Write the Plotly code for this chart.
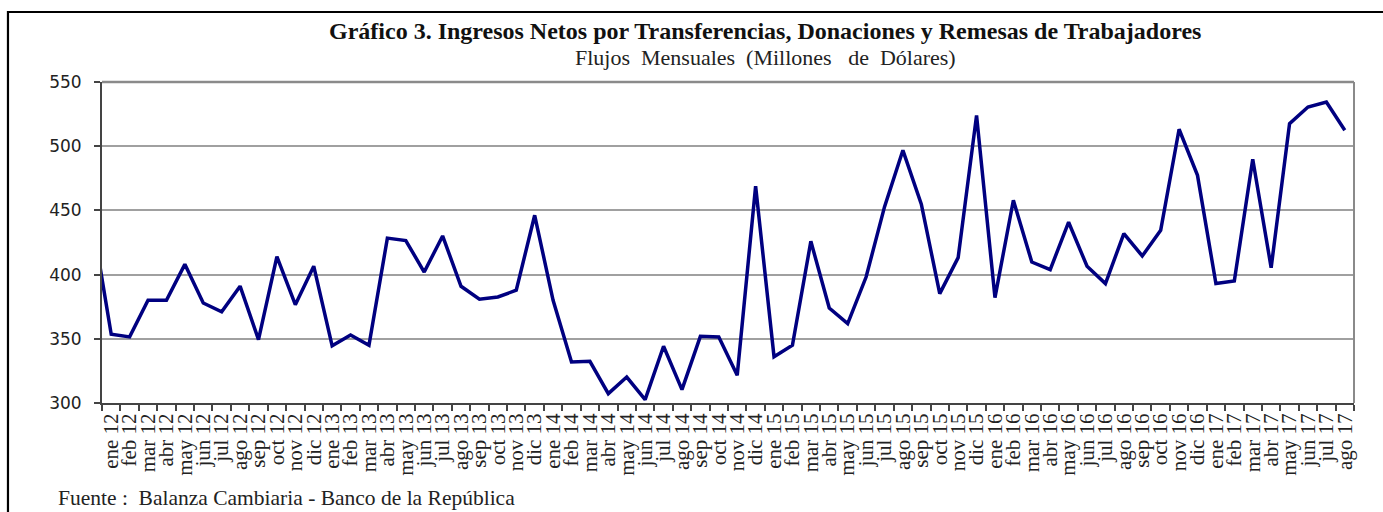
import plotly.graph_objects as go

# Monthly net inflows (USD millions); the series begins with Dec 2011,
# which sits just left of the first labelled month.
meses = ["ene", "feb", "mar", "abr", "may", "jun",
         "jul", "ago", "sep", "oct", "nov", "dic"]
anios = ["12", "13", "14", "15", "16", "17"]
etiquetas = [f"{m} {a}" for a in anios for m in meses][:68]  # ene 12 .. ago 17

valor_previo = 440.0  # dic 11

ingresos = [
    # 2012
    353.6, 351.5, 380.0, 380.0, 408.0, 377.9, 371.0, 391.0, 349.4, 414.0, 376.6, 406.6,
    # 2013
    344.5, 353.0, 345.0, 428.4, 426.5, 402.0, 430.1, 390.9, 380.8, 382.6, 387.8, 446.2,
    # 2014
    380.0, 331.9, 332.5, 307.3, 320.2, 302.6, 344.2, 310.4, 351.9, 351.4, 321.6, 468.8,
    # 2015
    336.0, 345.0, 425.9, 374.0, 361.8, 398.1, 452.7, 496.8, 454.8, 385.2, 413.2, 524.0,
    # 2016
    382.1, 457.9, 409.8, 403.9, 440.8, 406.5, 393.0, 431.9, 414.5, 434.5, 513.2, 477.3,
    # 2017
    393.0, 395.0, 489.8, 405.4, 517.6, 530.5, 534.4, 512.4,
]

serie = [valor_previo] + ingresos
posiciones = list(range(-1, len(ingresos)))

fig = go.Figure(
    go.Scatter(
        x=posiciones,
        y=serie,
        mode="lines",
        line=dict(color="#000080", width=3.5),
        hoverinfo="skip",
    )
)

serif = "Liberation Serif, Times New Roman, serif"
nb = "\u00a0"

fig.update_layout(
    width=1383,
    height=512,
    margin=dict(l=102, r=29, t=82, b=109),
    paper_bgcolor="white",
    plot_bgcolor="white",
    showlegend=False,
    xaxis=dict(
        range=[-0.5, len(ingresos) - 0.5],
        tickmode="array",
        tickvals=list(range(len(etiquetas))),
        ticktext=etiquetas,
        tickangle=-90,
        ticks="",
        tickfont=dict(family=serif, size=21, color="#222222"),
        showgrid=False,
        zeroline=False,
        showline=True,
        linecolor="#444444",
        linewidth=2,
        minor=dict(tick0=-0.5, dtick=1, ticks="outside", ticklen=6,
                   tickcolor="#444444", tickwidth=1.5, showgrid=False),
    ),
    yaxis=dict(
        range=[300, 550],
        tickvals=[300, 350, 400, 450, 500, 550],
        ticks="outside",
        ticklen=6,
        tickcolor="#444444",
        tickwidth=1.5,
        ticklabelstandoff=9,
        tickfont=dict(family="DejaVu Sans, Verdana, sans-serif", size=17, color="#222222"),
        showgrid=True,
        gridcolor="#a0a0a0",
        gridwidth=1.5,
        zeroline=False,
        showline=True,
        linecolor="#444444",
        linewidth=2,
    ),
    shapes=[
        # plot-area border (top and right sides)
        dict(type="line", xref="paper", yref="paper", x0=0, x1=1, y0=1, y1=1,
             line=dict(color="#8a8a8a", width=2.5), layer="above"),
        dict(type="line", xref="paper", yref="paper", x0=1, x1=1, y0=0, y1=1,
             line=dict(color="#8a8a8a", width=2), layer="above"),
        # outer frame of the chart
        dict(type="rect", xref="paper", yref="paper",
             x0=-0.0751, x1=1.05, y0=-0.40, y1=1.218,
             line=dict(color="black", width=2.2), fillcolor="rgba(0,0,0,0)"),
    ],
    annotations=[
        dict(
            text="<b>Gráfico 3. Ingresos Netos por Transferencias, Donaciones y Remesas de Trabajadores</b>",
            xref="paper", yref="paper", x=0.5296, y=1.158,
            xanchor="center", yanchor="middle", showarrow=False,
            font=dict(family=serif, size=24, color="#111111"),
        ),
        dict(
            text=f"Flujos{nb}{nb}Mensuales{nb}{nb}(Millones{nb}{nb}{nb}de{nb}{nb}Dólares)",
            xref="paper", yref="paper", x=0.5296, y=1.075,
            xanchor="center", yanchor="middle", showarrow=False,
            font=dict(family=serif, size=22, color="#222222"),
        ),
        dict(
            text="Fuente :  Balanza Cambiaria - Banco de la República",
            xref="paper", yref="paper",
            x=-0.0367, y=-0.295,
            xanchor="left", yanchor="middle",
            showarrow=False,
            font=dict(family=serif, size=21.5, color="#222222"),
        ),
    ],
)

fig.write_html("out.html")
